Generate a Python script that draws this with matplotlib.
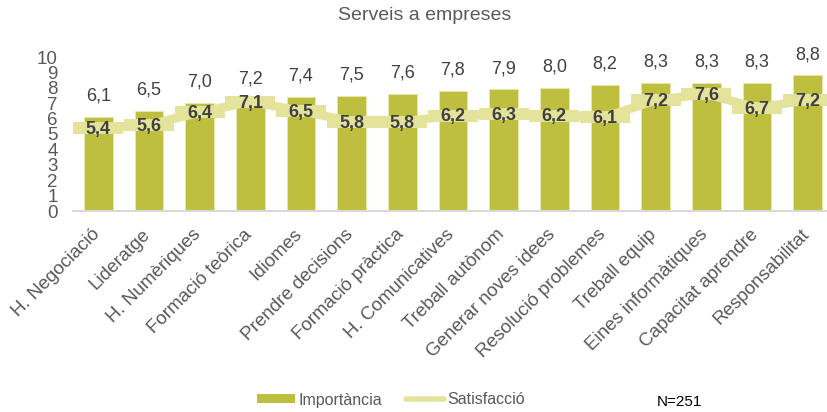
import matplotlib
matplotlib.use('Agg')
import matplotlib.pyplot as plt
import matplotlib.transforms as mtransforms
from matplotlib.lines import Line2D
from matplotlib.patches import Patch
import numpy as np

# ============================================================
# DADES
# ============================================================
CATEGORIES = ['H. Negociació', 'Lideratge', 'H. Numèriques', 'Formació teòrica',
              'Idiomes', 'Prendre decisions', 'Formació pràctica', 'H. Comunicatives',
              'Treball autònom', 'Generar noves idees', 'Resolució problemes',
              'Treball equip', 'Eines informàtiques', 'Capacitat aprendre',
              'Responsabilitat']
IMPORTANCIA = [6.1, 6.5, 7.0, 7.2, 7.4, 7.5, 7.6, 7.8, 7.9, 8.0, 8.2, 8.3, 8.3, 8.3, 8.8]
SATISFACCIO = [5.4, 5.6, 6.4, 7.1, 6.5, 5.8, 5.8, 6.2, 6.3, 6.2, 6.1, 7.2, 7.6, 6.7, 7.2]
Y_TICKS = list(range(0, 11))

TITOL = 'Serveis a empreses'
NOTA = 'N=251'

# ============================================================
# ESTIL
# ============================================================
plt.rcParams['font.family'] = ['Liberation Sans', 'DejaVu Sans']
COR_BARRA = '#bfbf3f'
COR_LINIA = '#e3e39b'
GRIS = '#595959'
FOSC = '#404040'

def fmt(v):
    return f'{v:.1f}'.replace('.', ',')

fig = plt.figure(figsize=(8.27, 4.12), dpi=100)
ax = fig.add_axes([73 / 827, 201 / 412, 760 / 827, 154 / 412])

x = np.arange(len(CATEGORIES))
ax.bar(x, IMPORTANCIA, width=0.57, color=COR_BARRA, edgecolor='#e8e8b0',
       linewidth=0.6, zorder=2)

# marcador rectangular ample per imitar l'estil de la línia d'Excel
rect = [(-3.3, -0.83), (3.3, -0.83), (3.3, 0.83), (-3.3, 0.83), (-3.3, -0.83)]
ax.plot(x, SATISFACCIO, color=COR_LINIA, linewidth=6.3, marker=rect,
        markersize=36, markerfacecolor=COR_LINIA, markeredgewidth=0,
        solid_joinstyle='miter', zorder=3)

for xi, v in zip(x, IMPORTANCIA):
    ax.annotate(fmt(v), (xi, v), xytext=(0, 15), textcoords='offset points',
                ha='center', va='center', fontsize=13, color=FOSC, zorder=4)

for xi, v in zip(x, SATISFACCIO):
    ax.annotate(fmt(v), (xi, v), xytext=(0, -1), textcoords='offset points',
                ha='center', va='center', fontsize=13, fontweight='bold',
                color=FOSC, zorder=4)

ax.set_xlim(-0.5, len(CATEGORIES) - 0.5)
ax.set_ylim(0, 10)
ax.set_yticks(Y_TICKS)
ax.tick_params(axis='y', length=0, pad=11, labelsize=13.5, labelcolor=GRIS)
ax.set_xticks(x)
ax.set_xticklabels(CATEGORIES, rotation=45, ha='right', va='center',
                   rotation_mode='anchor', fontsize=13.5, color=GRIS)
ax.tick_params(axis='x', length=0, pad=15)
offset = mtransforms.ScaledTranslation(-1 / 72, 0, fig.dpi_scale_trans)
for lbl in ax.get_xticklabels():
    lbl.set_transform(lbl.get_transform() + offset)

for s in ['top', 'right', 'left']:
    ax.spines[s].set_visible(False)
ax.spines['bottom'].set_color('#d9d9d9')
ax.spines['bottom'].set_linewidth(1.5)

fig.text(425 / 827, 1 - 16 / 412, TITOL, ha='center', va='center',
         fontsize=14, color=GRIS)

handles = [Patch(facecolor=COR_BARRA, edgecolor='none', label='Importància'),
           Line2D([0], [0], color=COR_LINIA, linewidth=4, solid_capstyle='round',
                  label='Satisfacció')]
fig.legend(handles=handles, loc='center', bbox_to_anchor=(391 / 827, 1 - 400 / 412),
           ncol=2, frameon=False, fontsize=11.5, handlelength=2.4, handleheight=0.5,
           handletextpad=0.2, columnspacing=1.5, labelcolor=GRIS)

fig.text(679 / 827, 1 - 402 / 412, NOTA, ha='center', va='center',
         fontsize=11, color='#000000')

fig.savefig('out.png', dpi=100)
